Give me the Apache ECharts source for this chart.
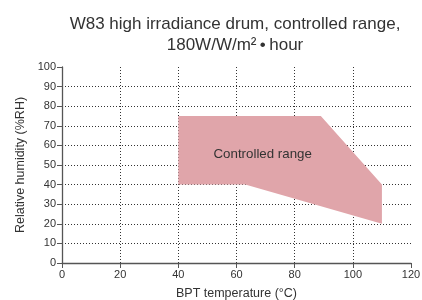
<!DOCTYPE html>
<html>
<head>
<meta charset="utf-8">
<script src="https://cdn.jsdelivr.net/npm/echarts@6/dist/echarts.min.js"></script>
<style>
  html,body{margin:0;padding:0;background:#fff;}
  #chart{width:422px;height:300px;}
</style>
</head>
<body>
<div id="chart"></div>
<script>
// outline of the controlled range (BPT temperature °C, humidity %RH)
const rangeTemp=[40, 40, 89, 110, 110, 63];
const rangeHumidity=[40, 75, 75, 40, 20, 40];
const rangeLabel='Controlled range';
const labelPoint=[69, 55.5];

const xTicks=[0,120,20];   // min,max,interval
const yTicks=[0,100,10];

const chart=echarts.init(document.getElementById('chart'),null,{renderer:'canvas'});
const fontFam='"Liberation Sans", Arial, sans-serif';

const points=rangeTemp.map((t,i)=>[t,rangeHumidity[i]]);

const axisCommon={
    axisLine:{show:true,lineStyle:{color:'#555',width:1.3}},
    axisTick:{show:true,length:5,inside:false,lineStyle:{color:'#555',width:1}},
    axisLabel:{color:'#333',fontSize:11,fontFamily:fontFam,margin:6},
    splitLine:{show:true,showMinLine:false,showMaxLine:false,lineStyle:{color:'#333',type:[1,2],width:1}},
    nameTextStyle:{color:'#333',fontSize:12.5,fontFamily:fontFam}
};

const option={
    animation:false,
    title:{
        text:'W83 high irradiance drum, controlled range,\n180W/W/m²\u2009•\u2009hour',
        left:230,
        top:9,
        textAlign:'center',
        textStyle:{color:'#333',fontSize:17,fontWeight:'normal',fontFamily:fontFam,lineHeight:21}
    },
    grid:{left:62,right:11,top:67,bottom:37,containLabel:false,outerBoundsMode:'none'},
    xAxis:Object.assign({},axisCommon,{
        type:'value',min:xTicks[0],max:xTicks[1],interval:xTicks[2],
        name:'BPT temperature (°C)',nameLocation:'middle',nameGap:24
    }),
    yAxis:Object.assign({},axisCommon,{
        type:'value',min:yTicks[0],max:yTicks[1],interval:yTicks[2],
        name:'Relative humidity (%RH)',nameLocation:'middle',nameGap:25
    }),
    series:[{
        type:'custom',
        data:points,
        renderItem:(params,api)=>{
            if(params.dataIndex!==0) return null;
            const pts=points.map(p=>api.coord(p));
            const lp=api.coord(labelPoint);
            return {
                type:'group',
                children:[
                    {type:'polygon',shape:{points:pts},style:{fill:'#e0a5aa',stroke:null}},
                    {type:'text',x:lp[0],y:lp[1],style:{text:rangeLabel,fill:'#333',fontSize:13.3,fontFamily:fontFam,align:'center',verticalAlign:'middle'}}
                ]
            };
        },
        z:1
    }]
};
chart.setOption(option);
</script>
</body>
</html>
